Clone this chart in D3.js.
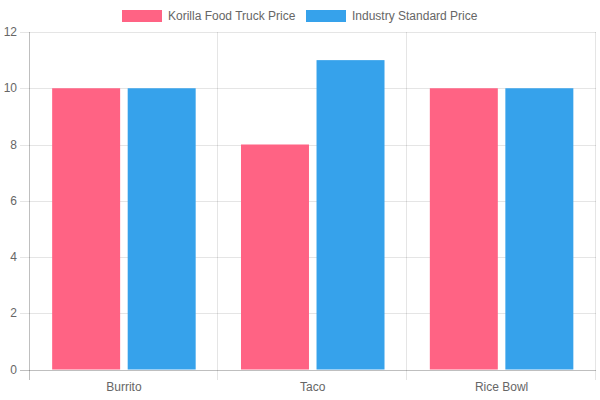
<!DOCTYPE html>
<html><head><meta charset="utf-8">
<script src="https://cdn.jsdelivr.net/npm/d3@7"></script>
<style>body{margin:0;background:#fff}svg{display:block;font-family:"Liberation Sans",Arial,sans-serif}</style>
</head><body><svg id="c" width="600" height="400"></svg>
<script>
const categories = ["Burrito", "Taco", "Rice Bowl"];
const seriesNames = ["Korilla Food Truck Price", "Industry Standard Price"];
const korillaPrices = [10, 8, 10];
const industryPrices = [10, 11, 10];
const yTicks = [0, 2, 4, 6, 8, 10, 12];
const colors = ["#FF6384", "#36A2EB"];

const svg = d3.select("#c");
const L = 29.5, R = 596, T = 32, B = 369.5;
const x = d3.scaleBand().domain(categories).range([L, R]).paddingInner(0).paddingOuter(0);
const y = d3.scaleLinear().domain([0, 12]).range([B, T]);
const inner = d3.scaleBand().domain([0, 1]).range([0, x.bandwidth() * 0.8]);
const series = [korillaPrices, industryPrices];

// grid
svg.append("g").selectAll("line").data(yTicks).join("line")
  .attr("x1", 20).attr("x2", R).attr("y1", d => Math.round(y(d)) + 0.5).attr("y2", d => Math.round(y(d)) + 0.5)
  .attr("stroke", d => d === 0 ? "rgba(0,0,0,0.25)" : "rgba(0,0,0,0.1)");
const xb = [...categories.map(c => x(c)), R];
svg.append("g").selectAll("line").data(xb).join("line")
  .attr("x1", d => Math.round(d) - 0.5).attr("x2", d => Math.round(d) - 0.5)
  .attr("y1", T).attr("y2", 380)
  .attr("stroke", (d, i) => i === 0 ? "rgba(0,0,0,0.25)" : "rgba(0,0,0,0.1)");

// bars
series.forEach((vals, si) => {
  svg.append("g").selectAll("rect").data(vals).join("rect")
    .attr("x", (d, i) => x(categories[i]) + x.bandwidth() * 0.1 + inner(si) + inner.bandwidth() * 0.05)
    .attr("width", inner.bandwidth() * 0.9)
    .attr("y", d => y(d)).attr("height", d => y(0) - y(d))
    .attr("fill", colors[si]);
});

// y labels
svg.append("g").selectAll("text").data(yTicks).join("text")
  .attr("x", 17).attr("y", d => y(d)).attr("dy", "0.35em").attr("text-anchor", "end")
  .attr("font-size", 12).attr("fill", "#666").text(d => d);
// x labels
svg.append("g").selectAll("text").data(categories).join("text")
  .attr("x", d => x(d) + x.bandwidth() / 2).attr("y", 387).attr("dy", "0.35em").attr("text-anchor", "middle")
  .attr("font-size", 12).attr("fill", "#666").text(d => d);

// legend
const lg = svg.append("g");
const lx = [122, 306];
seriesNames.forEach((n, i) => {
  lg.append("rect").attr("x", lx[i]).attr("y", 10).attr("width", 40).attr("height", 12).attr("fill", colors[i]);
  lg.append("text").attr("x", lx[i] + 46).attr("y", 16).attr("dy", "0.35em")
    .attr("font-size", 12).attr("fill", "#666").text(n);
});
</script></body></html>
